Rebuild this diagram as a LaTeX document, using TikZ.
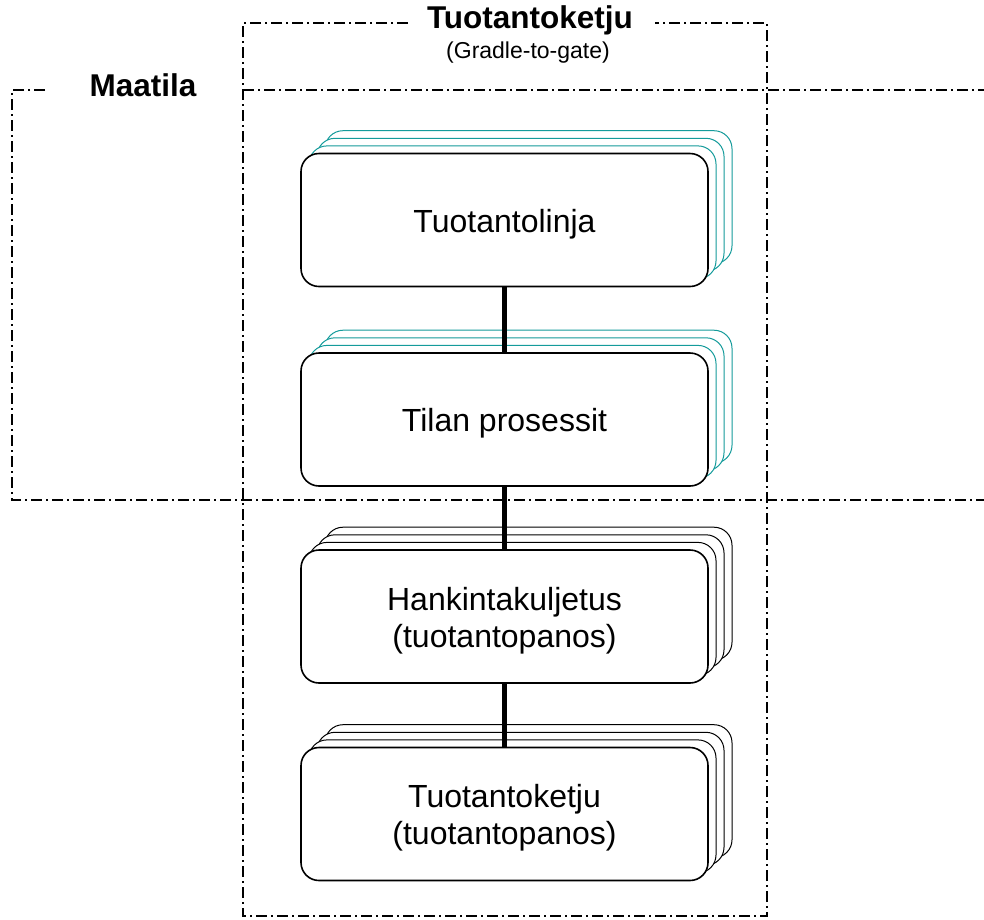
\documentclass[tikz,border=0pt]{standalone}
\usepackage{fontspec}
\setmainfont{Liberation Sans}
\definecolor{tealc}{RGB}{20,155,155}
\begin{document}
\begin{tikzpicture}[x=1pt,y=-1pt,
  box/.style={draw,line width=1.6pt,rounded corners=18pt,fill=white,minimum width=407pt,minimum height=133pt,inner sep=0pt},
  boxtext/.style={label={[align=center,inner sep=0pt,yshift=-4pt,font=\fontsize{32}{37}\selectfont]center:#1}},
  ghost/.style={box,line width=1pt},
  link/.style={line width=4.5pt},
  frame/.style={line width=1.7pt,dash pattern=on 11pt off 4pt on 2pt off 4pt},
  title/.style={font=\bfseries\fontsize{31.5}{36}\selectfont,inner sep=0pt}]
\useasboundingbox (0,0) rectangle (984,919);
% frames
\draw[frame] (408,23) -- (243,23) -- (243,916) -- (767,916) -- (767,23) -- (655,23);
\draw[frame] (45,90) -- (12,90) -- (12,500) -- (984,500);
\draw[frame] (243,90) -- (984,90);
% titles
\node[title] (t1) at (530,20) {Tuotantoketju};
\node[font=\fontsize{23}{26}\selectfont,inner sep=0pt] (t2) at (528,53) {(Gradle-to-gate)};
\node[title] (maatila) at (143,85) {Maatila};
% ghost copies
\foreach \k in {3,2,1} {
  \node[ghost,draw=tealc] at (504.5+8*\k,220-7.6*\k) {};
  \node[ghost,draw=tealc] at (504.5+8*\k,419.5-7.6*\k) {};
  \node[ghost] at (504.5+8*\k,616.5-7.6*\k) {};
  \node[ghost] at (504.5+8*\k,814-7.6*\k) {};
}
% front boxes
\node[box,boxtext={Tuotantolinja}] (b1) at (504.5,220) {};
\node[box,boxtext={Tilan prosessit}] (b2) at (504.5,419.5) {};
\node[box,boxtext={Hankintakuljetus\\(tuotantopanos)}] (b3) at (504.5,616.5) {};
\node[box,boxtext={Tuotantoketju\\(tuotantopanos)}] (b4) at (504.5,814) {};
% connectors
\draw[link] (b1.south) -- (b2.north);
\draw[link] (b2.south) -- (b3.north);
\draw[link] (b3.south) -- (b4.north);
\end{tikzpicture}
\end{document}
